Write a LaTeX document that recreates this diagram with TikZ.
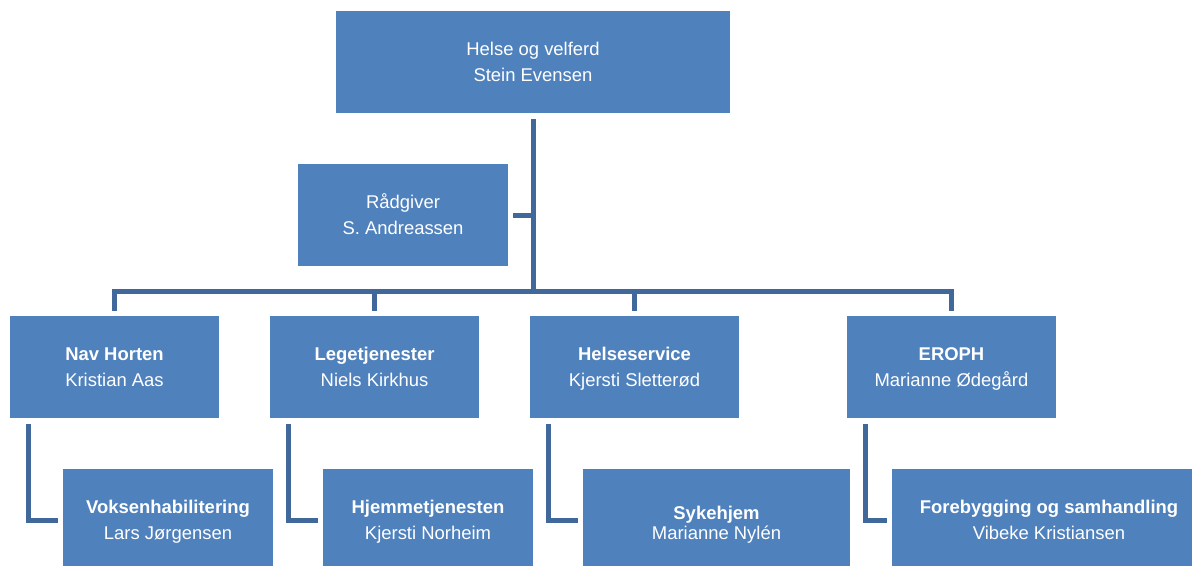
\documentclass[tikz,border=0pt]{standalone}
\usepackage{fontspec}
\setmainfont{Liberation Sans}
\definecolor{boxblue}{HTML}{4F81BD}
\definecolor{linkblue}{HTML}{41689A}

\begin{document}
\begin{tikzpicture}[x=0.02cm, y=-0.02cm,
    unit/.style={fill=boxblue, text=white, align=center, inner sep=0pt,
        font=\fontsize{10.5}{15.3}\selectfont, minimum height=2.04cm,
        execute at begin node={\rule{0pt}{27.3pt}},
        execute at end node={\rule[-4.6pt]{0pt}{4.6pt}}},
    link/.style={draw=linkblue, line width=0.1cm}]
    \useasboundingbox (0,0) rectangle (1192,565);
    \clip (0,0) rectangle (1192,565);

    % Leader and staff
    \node[unit, minimum width=7.88cm] (top) at (533,62) {Helse og velferd\\Stein Evensen};
    \node[unit, minimum width=4.2cm] (radgiver) at (403,215) {Rådgiver\\S. Andreassen};
    \coordinate (hub) at (533,291);

    % Units
    \node[unit, minimum width=4.18cm] (nav) at (114.5,367) {\textbf{Nav Horten}\\Kristian Aas};
    \node[unit, minimum width=4.18cm] (lege) at (374.5,367) {\textbf{Legetjenester}\\Niels Kirkhus};
    \node[unit, minimum width=4.18cm] (helse) at (634.5,367) {\textbf{Helseservice}\\Kjersti Sletterød};
    \node[unit, minimum width=4.18cm] (eroph) at (951.5,367) {\textbf{EROPH}\\Marianne Ødegård};

    % Sub-units
    \node[unit, minimum width=4.2cm] (voksen) at (168,520) {\textbf{Voksenhabilitering}\\Lars Jørgensen};
    \node[unit, minimum width=4.2cm] (hjemme) at (428,520) {\textbf{Hjemmetjenesten}\\Kjersti Norheim};
    \node[unit, minimum width=5.34cm, font=\fontsize{10.5}{11.9}\selectfont,
        execute at begin node={\rule{0pt}{25pt}}] (syke) at (716.5,520) {\textbf{Sykehjem}\\Marianne Nylén};
    \node[unit, minimum width=6.28cm] (forebygg) at (1049,520) {\textbf{Forebygging og samhandling}\\Vibeke Kristiansen};

    % Connectors
    \draw[link, shorten <=0.12cm] (top.south) -- (hub);
    \draw[link, shorten <=0.1cm] (radgiver.east) -- (radgiver.east -| hub);
    \foreach \unit in {nav, lege, helse, eroph}
        \draw[link, shorten >=0.1cm] (hub) -| (\unit.north);
    \foreach \unit/\sub in {nav/voksen, lege/hjemme, helse/syke, eroph/forebygg}
        \draw[link, shorten <=0.12cm, shorten >=0.1cm] ([xshift=0.38cm]\unit.south west) |- (\sub.west);
\end{tikzpicture}
\end{document}
